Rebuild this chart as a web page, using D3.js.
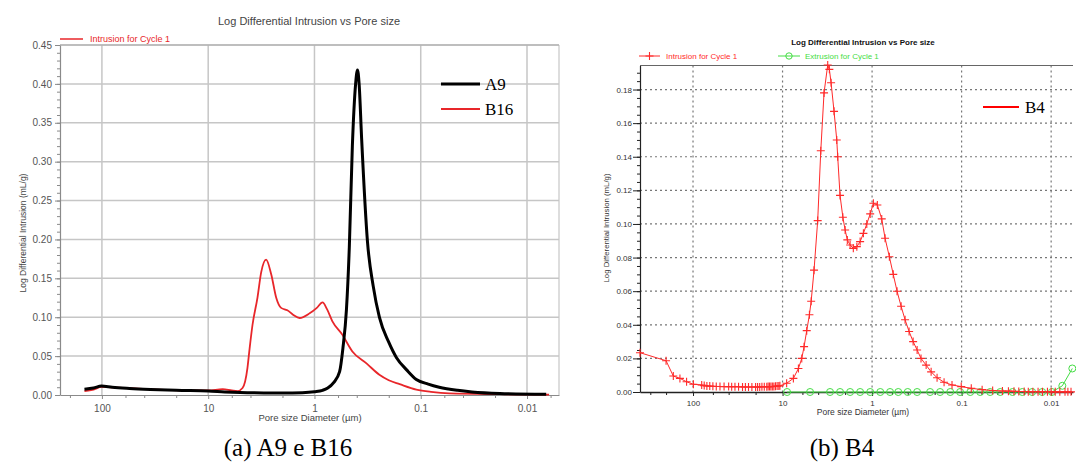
<!DOCTYPE html>
<html><head><meta charset="utf-8">
<script src="https://cdn.jsdelivr.net/npm/d3@7"></script>
<style>body{margin:0;background:#fff} svg{display:block}</style>
</head><body>
<svg id="c" width="1076" height="468"></svg>
<script>
// ---------- DATA ----------
// Panel (a): pore size (µm) and log differential intrusion (mL/g)
const a9Size = [146,120,101,80,55,35,20,10,7,5,3,2,1.3,1.0,0.84,0.75,0.66,0.58,0.54,0.5,0.47,0.44,0.41,0.394,0.38,0.36,0.317,0.28,0.245,0.2,0.169,0.135,0.11,0.085,0.067,0.045,0.033,0.018,0.0066];
const a9Val  = [0.0075,0.009,0.0115,0.010,0.0085,0.0072,0.006,0.0052,0.004,0.0032,0.0027,0.0026,0.003,0.0042,0.006,0.009,0.016,0.03,0.06,0.11,0.19,0.32,0.40,0.418,0.40,0.33,0.197,0.14,0.10,0.068,0.048,0.032,0.020,0.014,0.010,0.006,0.004,0.002,0.001];
const b16Size = [146,120,101,80,50,30,15,10,7.3,6.0,5.3,4.75,4.27,4.09,3.83,3.44,3.17,2.85,2.55,2.29,2.06,1.8,1.58,1.38,1.11,0.95,0.84,0.76,0.68,0.55,0.44,0.32,0.245,0.2,0.158,0.11,0.08,0.054,0.018,0.0062];
const b16Val  = [0.005,0.007,0.0105,0.0098,0.0085,0.007,0.006,0.0058,0.0075,0.0058,0.005,0.009,0.035,0.058,0.09,0.125,0.158,0.174,0.155,0.125,0.112,0.109,0.103,0.099,0.105,0.112,0.119,0.11,0.095,0.078,0.056,0.040,0.026,0.019,0.014,0.007,0.004,0.002,0.001,0.0005];
// Panel (b): B4 intrusion and extrusion
const b4Size = [391,200,166,140,118,99,80,75,70,65,60,55,50,45,40,37,34,31,28,26,24,22,20,19,18,17,16,15,14.5,14,13.5,13,12.5,12,11.5,11,10.7,9.0,7.57,6.65,6.1,5.75,5.37,5.01,4.79,4.45,4.05,3.74,3.44,3.13,3.0,2.87,2.66,2.48,2.42,2.28,2.12,2.0,1.89,1.76,1.62,1.48,1.36,1.25,1.146,1.05,0.967,0.873,0.78,0.716,0.641,0.58,0.526,0.474,0.428,0.386,0.348,0.314,0.284,0.249,0.219,0.188,0.157,0.128,0.101,0.078,0.059,0.045,0.035,0.03,0.026,0.023,0.02,0.018,0.016,0.014,0.0125,0.011,0.01,0.009,0.008,0.007,0.0065,0.006];
const b4Val  = [0.0234,0.0186,0.0095,0.0081,0.0061,0.0046,0.0042,0.0038,0.0036,0.0035,0.0034,0.0033,0.0033,0.0032,0.0032,0.0031,0.0031,0.0031,0.003,0.003,0.003,0.003,0.003,0.003,0.003,0.0031,0.0031,0.0031,0.0032,0.0032,0.0032,0.0033,0.0033,0.0034,0.0035,0.0036,0.0037,0.0052,0.0081,0.014,0.020,0.027,0.0365,0.046,0.054,0.0725,0.102,0.1436,0.178,0.1946,0.192,0.184,0.167,0.150,0.140,0.117,0.104,0.0964,0.0905,0.0875,0.0855,0.0865,0.0895,0.0944,0.100,0.106,0.1123,0.1113,0.103,0.0915,0.0805,0.070,0.060,0.051,0.043,0.036,0.030,0.025,0.020,0.016,0.012,0.0085,0.0058,0.0042,0.0032,0.0022,0.0014,0.0009,0.0006,0.0005,0.0004,0.0003,0.0003,0.0002,0.0002,0.0002,0.0002,0.0002,0.0001,0.0001,0.0001,0.0001,0.0001,0.0001];
const extSize = [8.9,4.93,2.95,2.28,1.76,1.36,1.05,0.81,0.63,0.51,0.40,0.314,0.225,0.174,0.134,0.104,0.080,0.062,0.048,0.037,0.027,0.021,0.0163,0.0126,0.0098,0.0075,0.0058];
const extVal  = [0,0,0,0,0,0,0,0,0,0,0,0,0,0,0,0,0,0,0,0,0,0,0,0,0,0.0037,0.014];
// Ticks and labels
const leftYTicks = [0,0.05,0.10,0.15,0.20,0.25,0.30,0.35,0.40,0.45];
const rightYTicks = [0,0.02,0.04,0.06,0.08,0.10,0.12,0.14,0.16,0.18];
const xTicks = [100,10,1,0.1,0.01];
const xTickLabels = ["100","10","1","0.1","0.01"];
const xMinor = [200,60,40,20,6,4,2,0.6,0.4,0.2,0.06,0.04,0.02,0.006];
const titleText = "Log Differential Intrusion vs Pore size";
const yLabel = "Log Differential Intrusion (mL/g)";
const xLabel = "Pore size Diameter (µm)";
const captions = ["(a) A9 e B16","(b) B4"];

// ---------- DRAW ----------
const svg = d3.select("#c");
const SANS = "Liberation Sans, Arial, sans-serif";
const SERIF = "Liberation Serif, Times New Roman, serif";
const zip = (a,b) => a.map((v,i)=>[v,b[i]]).filter(d=>d[1]!==undefined);

// ===== Panel (a) =====
const xL = d3.scaleLog().domain([248,0.005]).range([60,559]);
const yL = d3.scaleLinear().domain([0,0.45]).range([395,45]);
const gL = svg.append("g");
gL.selectAll("line.gy").data(leftYTicks.slice(1)).join("line").attr("class","gy")
  .attr("x1",60).attr("x2",559).attr("y1",d=>yL(d)).attr("y2",d=>yL(d))
  .attr("stroke","#c6c6c6").attr("stroke-width",1.5);
gL.selectAll("line.gx").data(xTicks).join("line").attr("class","gx")
  .attr("x1",d=>xL(d)).attr("x2",d=>xL(d)).attr("y1",45).attr("y2",395)
  .attr("stroke","#c6c6c6").attr("stroke-width",1.5);
gL.append("line").attr("x1",559).attr("x2",559).attr("y1",45).attr("y2",395).attr("stroke","#c6c6c6").attr("stroke-width",1.2);
gL.append("line").attr("x1",60).attr("x2",559).attr("y1",45).attr("y2",45).attr("stroke","#a8a8a8").attr("stroke-width",1.2);

function styleAxis(g, color, size, fill){
  g.attr("font-family",SANS).attr("font-size",size);
  g.selectAll("path.domain").attr("stroke",color).attr("stroke-width",1.2);
  g.selectAll(".tick line").attr("stroke",color);
  g.selectAll(".tick text").attr("fill",fill);
}
const ayL = gL.append("g").attr("transform","translate(60,0)")
  .call(d3.axisLeft(yL).tickValues(leftYTicks).tickFormat(d3.format(".2f")).tickSize(5).tickPadding(3).tickSizeOuter(0));
styleAxis(ayL,"#8a8a8a",10,"#555");
gL.append("g").attr("transform","translate(60,0)")
  .call(d3.axisLeft(yL).tickValues(d3.range(0,0.451,0.01)).tickFormat("").tickSize(3).tickSizeOuter(0))
  .call(g=>{g.select("path.domain").remove(); g.selectAll("line").attr("stroke","#8a8a8a");});
const axL = gL.append("g").attr("transform","translate(0,395)")
  .call(d3.axisBottom(xL).tickValues(xTicks).tickFormat((d,i)=>xTickLabels[i]).tickSize(4).tickPadding(6).tickSizeOuter(0));
styleAxis(axL,"#8a8a8a",10,"#555");
gL.append("g").attr("transform","translate(0,395)")
  .call(d3.axisBottom(xL).tickValues(xMinor).tickFormat("").tickSize(3).tickSizeOuter(0))
  .call(g=>{g.select("path.domain").remove(); g.selectAll("line").attr("stroke","#8a8a8a");});

const lineL = d3.line().x(d=>xL(d[0])).y(d=>yL(d[1])).curve(d3.curveMonotoneX);
gL.append("path").datum(zip(b16Size,b16Val)).attr("d",lineL).attr("fill","none").attr("stroke","#e8262a").attr("stroke-width",1.8);
gL.append("path").datum(zip(a9Size,a9Val)).attr("d",lineL).attr("fill","none").attr("stroke","#000").attr("stroke-width",3);

gL.append("text").attr("x",309).attr("y",25).attr("text-anchor","middle").attr("font-family",SANS).attr("font-size",11).attr("fill","#444").text(titleText);
gL.append("line").attr("x1",60).attr("x2",83).attr("y1",39).attr("y2",39).attr("stroke","#e8262a").attr("stroke-width",1.5);
gL.append("text").attr("x",90).attr("y",42).attr("font-family",SANS).attr("font-size",9).attr("fill","#e8262a").text("Intrusion for Cycle 1");
gL.append("text").attr("transform","translate(26,233) rotate(-90)").attr("text-anchor","middle").attr("font-family",SANS).attr("font-size",8.5).attr("fill","#444").text(yLabel);
gL.append("text").attr("x",310).attr("y",421).attr("text-anchor","middle").attr("font-family",SANS).attr("font-size",9.5).attr("fill","#444").text(xLabel);
// legend
gL.append("line").attr("x1",441).attr("x2",480).attr("y1",84).attr("y2",84).attr("stroke","#000").attr("stroke-width",3);
gL.append("text").attr("x",485).attr("y",90).attr("font-family",SERIF).attr("font-size",17).attr("fill","#000").text("A9");
gL.append("line").attr("x1",441).attr("x2",480).attr("y1",109).attr("y2",109).attr("stroke","#e8262a").attr("stroke-width",2);
gL.append("text").attr("x",485).attr("y",115).attr("font-family",SERIF).attr("font-size",17).attr("fill","#000").text("B16");

// ===== Panel (b) =====
const xR = d3.scaleLog().domain([391,0.0057]).range([640,1073]);
const yR = d3.scaleLinear().domain([0,0.1943]).range([392,65.5]);
const gR = svg.append("g");
gR.selectAll("line.gy").data(rightYTicks.slice(1)).join("line").attr("class","gy")
  .attr("x1",640).attr("x2",1073).attr("y1",d=>yR(d)).attr("y2",d=>yR(d))
  .attr("stroke","#777").attr("stroke-width",1.2).attr("stroke-dasharray","2,3");
gR.selectAll("line.gx").data(xTicks).join("line").attr("class","gx")
  .attr("x1",d=>xR(d)).attr("x2",d=>xR(d)).attr("y1",65.5).attr("y2",392)
  .attr("stroke","#777").attr("stroke-width",1.2).attr("stroke-dasharray","2,3");
gR.append("line").attr("x1",640).attr("x2",1073).attr("y1",65.5).attr("y2",65.5).attr("stroke","#666").attr("stroke-width",1.2);

const ayR = gR.append("g").attr("transform","translate(640,0)")
  .call(d3.axisLeft(yR).tickValues(rightYTicks).tickFormat(d3.format(".2f")).tickSize(7).tickPadding(1).tickSizeOuter(0));
styleAxis(ayR,"#222",8,"#333");
gR.append("g").attr("transform","translate(640,0)")
  .call(d3.axisLeft(yR).tickValues(d3.range(0,0.194,0.005)).tickFormat("").tickSize(3).tickSizeOuter(0))
  .call(g=>{g.select("path.domain").remove(); g.selectAll("line").attr("stroke","#222");});
const axR = gR.append("g").attr("transform","translate(0,392)")
  .call(d3.axisBottom(xR).tickValues(xTicks).tickFormat((d,i)=>xTickLabels[i]).tickSize(4).tickPadding(4).tickSizeOuter(0));
styleAxis(axR,"#222",8,"#333");
axR.select("path.domain").attr("stroke-width",1.6);
gR.append("g").attr("transform","translate(0,392)")
  .call(d3.axisBottom(xR).tickValues(xMinor.concat([300])).tickFormat("").tickSize(3).tickSizeOuter(0))
  .call(g=>{g.select("path.domain").remove(); g.selectAll("line").attr("stroke","#222");});

const RED = "#ff2a2a", GREEN = "#44dd44";
const lineR = d3.line().x(d=>xR(d[0])).y(d=>yR(d[1]));
const extData = zip(extSize,extVal);
gR.append("path").datum(extData).attr("d",lineR).attr("fill","none").attr("stroke",GREEN).attr("stroke-width",1);
gR.selectAll("circle.ext").data(extData).join("circle").attr("class","ext")
  .attr("cx",d=>xR(d[0])).attr("cy",d=>yR(d[1])).attr("r",3.5)
  .attr("fill","none").attr("stroke",GREEN).attr("stroke-width",1);
const b4Data = zip(b4Size,b4Val);
gR.append("path").datum(b4Data).attr("d",lineR).attr("fill","none").attr("stroke",RED).attr("stroke-width",1);
const plus = (x,y)=>`M${x-4},${y}H${x+4}M${x},${y-4}V${y+4}`;
gR.selectAll("path.mk").data(b4Data).join("path").attr("class","mk")
  .attr("d",d=>plus(xR(d[0]),yR(d[1]))).attr("stroke",RED).attr("stroke-width",1.1).attr("fill","none");

gR.append("text").attr("x",863).attr("y",45).attr("text-anchor","middle").attr("font-family",SANS).attr("font-weight","bold").attr("font-size",8).attr("fill","#111").text(titleText);
gR.append("line").attr("x1",639).attr("x2",660).attr("y1",56).attr("y2",56).attr("stroke",RED).attr("stroke-width",1);
gR.append("path").attr("d",plus(649.5,56)).attr("stroke",RED).attr("stroke-width",1.1);
gR.append("text").attr("x",666).attr("y",59).attr("font-family",SANS).attr("font-size",8).attr("fill",RED).text("Intrusion for Cycle 1");
gR.append("line").attr("x1",778).attr("x2",800).attr("y1",56).attr("y2",56).attr("stroke",GREEN).attr("stroke-width",1);
gR.append("circle").attr("cx",789).attr("cy",56).attr("r",3.2).attr("fill","none").attr("stroke",GREEN);
gR.append("text").attr("x",805).attr("y",59).attr("font-family",SANS).attr("font-size",8).attr("fill",GREEN).text("Extrusion for Cycle 1");
gR.append("text").attr("transform","translate(609,228) rotate(-90)").attr("text-anchor","middle").attr("font-family",SANS).attr("font-size",7.8).attr("fill","#333").text(yLabel);
gR.append("text").attr("x",863).attr("y",415).attr("text-anchor","middle").attr("font-family",SANS).attr("font-size",8.5).attr("fill","#333").text(xLabel);
gR.append("line").attr("x1",983).attr("x2",1019).attr("y1",107).attr("y2",107).attr("stroke","#ff0000").attr("stroke-width",2.2);
gR.append("text").attr("x",1025).attr("y",113).attr("font-family",SERIF).attr("font-size",17).attr("fill","#000").text("B4");

// captions
svg.append("text").attr("x",288).attr("y",456).attr("text-anchor","middle").attr("font-family",SERIF).attr("font-size",25).attr("fill","#000").text(captions[0]);
svg.append("text").attr("x",842).attr("y",456).attr("text-anchor","middle").attr("font-family",SERIF).attr("font-size",25).attr("fill","#000").text(captions[1]);
</script>
</body></html>
